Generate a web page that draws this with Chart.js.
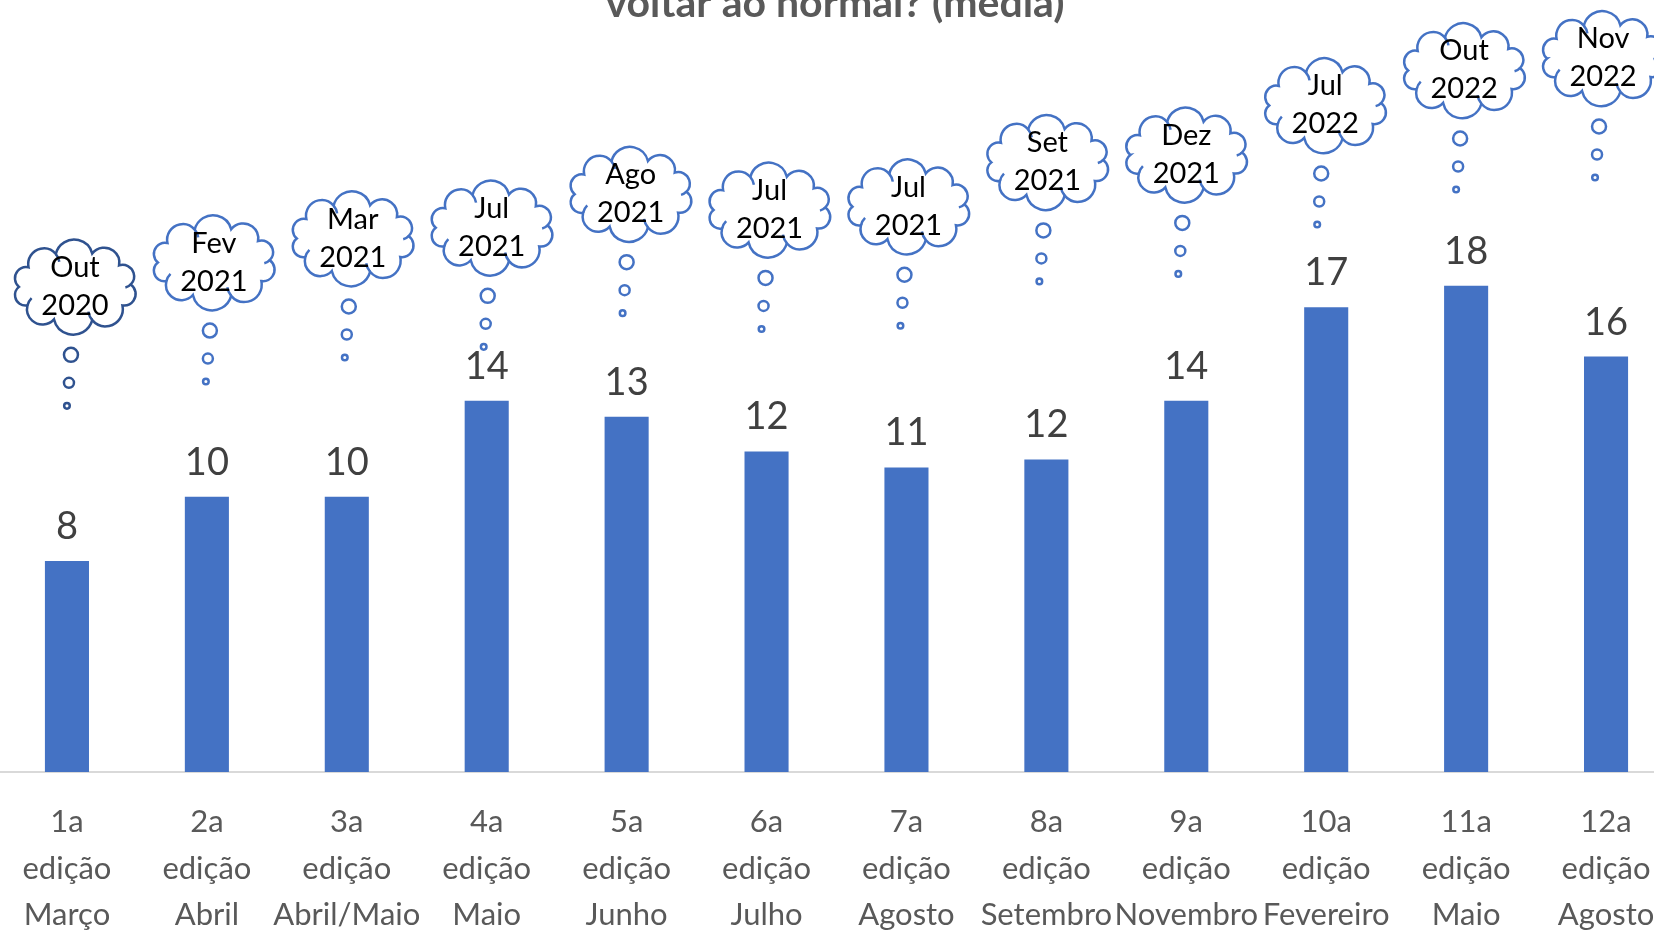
<!DOCTYPE html>
<html>
<head>
<meta charset="utf-8">
<script src="https://cdn.jsdelivr.net/npm/chart.js@4.4.0/dist/chart.umd.min.js"></script>
<style>
    html, body { margin: 0; padding: 0; background: #fff; overflow: hidden; width: 1654px; height: 930px; }
    #wrap { position: absolute; left: -3px; top: -22px; width: 1679px; height: 960px; }
</style>
</head>
<body>
<div id="wrap"><canvas id="grafico"></canvas></div>
<script>
// Dados
const titulo = 'voltar ao normal? (média)';

const edicoes = [
    ['1a', 'edição', 'Março'],
    ['2a', 'edição', 'Abril'],
    ['3a', 'edição', 'Abril/Maio'],
    ['4a', 'edição', 'Maio'],
    ['5a', 'edição', 'Junho'],
    ['6a', 'edição', 'Julho'],
    ['7a', 'edição', 'Agosto'],
    ['8a', 'edição', 'Setembro'],
    ['9a', 'edição', 'Novembro'],
    ['10a', 'edição', 'Fevereiro'],
    ['11a', 'edição', 'Maio'],
    ['12a', 'edição', 'Agosto']
];

const media = [7.9, 10.3, 10.3, 13.9, 13.3, 12.0, 11.4, 11.7, 13.9, 17.4, 18.2, 15.55];

// texto das nuvens (previsão de volta ao normal)
const previsoes = [
    ['Out', '2020'], ['Fev', '2021'], ['Mar', '2021'], ['Jul', '2021'],
    ['Ago', '2021'], ['Jul', '2021'], ['Jul', '2021'], ['Set', '2021'],
    ['Dez', '2021'], ['Jul', '2022'], ['Out', '2022'], ['Nov', '2022']
];

// altura do centro de cada nuvem, na escala do eixo y
const nivelNuvem = [18.16, 19.07, 19.97, 20.37, 21.63, 21.04, 21.16, 22.82, 23.10, 24.95, 26.26, 26.71];

const FONTE = 'Lato, "Open Sans", sans-serif';

// Desenha uma nuvem estilo "balão de pensamento"
function desenhaNuvem(ctx, cx, cy, cor) {
    const rx = 56, ry = 35;
    const ang = [180, 214, 250, 288, 322, 356, 32, 72, 112, 148].map(a => a * Math.PI / 180);
    const pts = ang.map(a => [cx + rx * Math.cos(a), cy + ry * Math.sin(a)]);
    const arcos = [];
    ctx.beginPath();
    for (let k = 0; k < pts.length; k++) {
        const p = pts[k], q = pts[(k + 1) % pts.length];
        const mx = (p[0] + q[0]) / 2, my = (p[1] + q[1]) / 2;
        const dx = q[0] - p[0], dy = q[1] - p[1];
        const h = Math.hypot(dx, dy) / 2;
        const nx = dy / (2 * h), ny = -dx / (2 * h);
        const d = 0.25 * h;
        const c = [mx - nx * d, my - ny * d];
        const r = Math.hypot(h, d);
        const a0 = Math.atan2(p[1] - c[1], p[0] - c[0]);
        let a1 = Math.atan2(q[1] - c[1], q[0] - c[0]);
        while (a1 < a0) a1 += 2 * Math.PI;
        ctx.arc(c[0], c[1], r, a0, a1, false);
        arcos.push([c, r, a1]);
    }
    ctx.closePath();
    ctx.fillStyle = '#fff';
    ctx.fill();
    ctx.strokeStyle = cor;
    ctx.lineWidth = 2.5;
    ctx.stroke();
    // pequenos ganchos internos
    [1, 4, 6, 8].forEach(k => {
        const [c, r, a1] = arcos[k];
        ctx.beginPath();
        ctx.arc(c[0], c[1], r, a1, a1 + 0.55, false);
        ctx.stroke();
    });
}

const pluginTitulo = {
    id: 'pluginTitulo',
    afterDraw(chart) {
        const ctx = chart.ctx;
        ctx.save();
        ctx.font = 'bold 41px ' + FONTE;
        ctx.fillStyle = '#595959';
        ctx.textAlign = 'center';
        ctx.textBaseline = 'alphabetic';
        ctx.fillText(titulo, 838, 39);
        ctx.restore();
    }
};

const pluginRotulos = {
    id: 'pluginRotulos',
    afterDatasetsDraw(chart) {
        const ctx = chart.ctx;
        const meta = chart.getDatasetMeta(0);
        const xs = chart.scales.x, ys = chart.scales.y;
        ctx.save();
        // valores acima das barras
        ctx.font = '38px ' + FONTE;
        ctx.fillStyle = '#404040';
        ctx.textAlign = 'center';
        ctx.textBaseline = 'alphabetic';
        meta.data.forEach((bar, i) => {
            ctx.fillText(String(Math.round(media[i])), bar.x, bar.y - 22);
        });
        // nuvens com a previsão
        previsoes.forEach((txt, i) => {
            const cx = xs.getPixelForValue(i) + 8 - i;
            const cy = ys.getPixelForValue(nivelNuvem[i]);
            const cor = i === 0 ? '#2F528F' : '#4472C4';
            ctx.strokeStyle = cor;
            ctx.lineWidth = 2.5;
            [[-4, 68, 7], [-6, 96, 5], [-8, 119, 2.8]].forEach(([dx, dy, r]) => {
                ctx.beginPath();
                ctx.arc(cx + dx, cy + dy, r, 0, Math.PI * 2);
                ctx.fillStyle = '#fff';
                ctx.fill();
                ctx.stroke();
            });
            desenhaNuvem(ctx, cx, cy, cor);
            ctx.font = '29px ' + FONTE;
            ctx.fillStyle = '#000';
            ctx.textAlign = 'center';
            ctx.fillText(txt[0], cx, cy - 10);
            ctx.fillText(txt[1], cx, cy + 28);
        });
        ctx.restore();
    }
};

async function montaGrafico() {
    try {
        await Promise.all([
            document.fonts.load('36px Lato'),
            document.fonts.load('bold 36px Lato')
        ]);
    } catch (e) {
        console.error('Fonte não carregada', e);
    }

    new Chart(document.getElementById('grafico').getContext('2d'), {
        type: 'bar',
        data: {
            labels: edicoes,
            datasets: [{
                label: 'Média',
                data: media,
                backgroundColor: '#4472C4',
                borderWidth: 0,
                categoryPercentage: 1,
                barPercentage: 0.315
            }]
        },
        options: {
            responsive: true,
            maintainAspectRatio: false,
            animation: false,
            layout: { padding: { top: 46, left: 0, right: 0, bottom: 0 } },
            plugins: {
                legend: { display: false },
                title: { display: false },
                tooltip: { enabled: false }
            },
            scales: {
                y: { display: false, min: 0, max: 28 },
                x: {
                    grid: { display: false, drawTicks: false },
                    border: { display: true, color: '#d9d9d9', width: 2 },
                    ticks: {
                        color: '#595959',
                        font: { family: FONTE, size: 31, lineHeight: 1.5 },
                        padding: 27,
                        maxRotation: 0,
                        autoSkip: false
                    },
                    afterFit: (scale) => {
                        // altura fixa do eixo e sem recuo lateral por causa dos rótulos
                        scale.height = 166;
                        scale.paddingLeft = 0;
                        scale.paddingRight = 0;
                    }
                }
            }
        },
        plugins: [pluginRotulos, pluginTitulo]
    });
}

montaGrafico();
</script>
</body>
</html>
